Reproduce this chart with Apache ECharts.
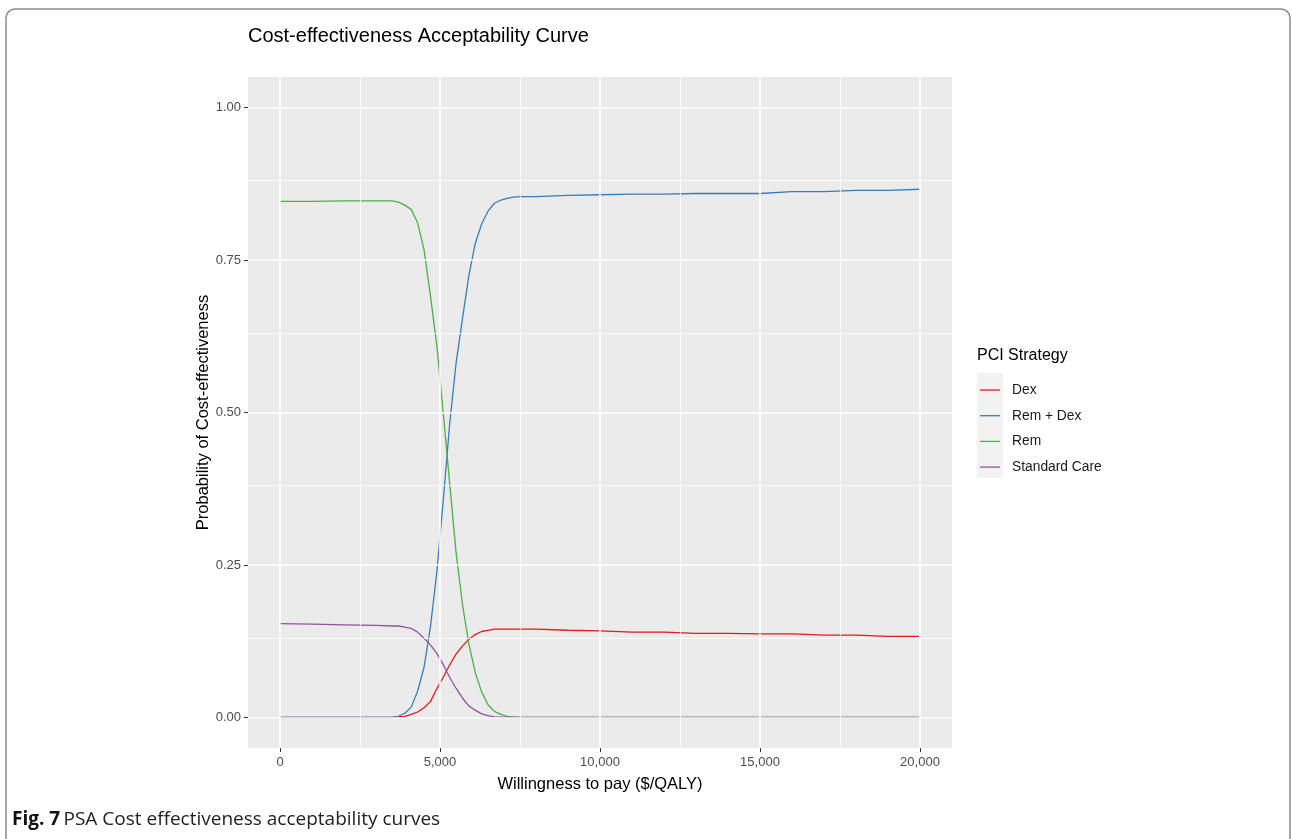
<!DOCTYPE html>
<html>
<head>
<meta charset="utf-8">
<script src="https://cdn.jsdelivr.net/npm/echarts@6/dist/echarts.min.js"></script>
<style>
  html, body { margin: 0; padding: 0; background: #fff; }
  #chart { width: 1292px; height: 839px; }
</style>
</head>
<body>
<div id="chart"></div>
<script>
// ---- data ----
const wtp = [0, 1000, 2000, 3000, 3500, 3700, 3900, 4100, 4300, 4500, 4700, 4900, 5100, 5300, 5500, 5700, 5900, 6100, 6300, 6500, 6700, 6900, 7100, 7300, 7500, 8000, 9000, 10000, 11000, 12000, 13000, 14000, 15000, 16000, 17000, 18000, 19000, 20000];
const dex = [0, 0, 0, 0, 0, 0.001, 0.002, 0.005, 0.009, 0.016, 0.026, 0.047, 0.066, 0.086, 0.104, 0.117, 0.128, 0.136, 0.141, 0.143, 0.145, 0.145, 0.145, 0.145, 0.145, 0.145, 0.143, 0.142, 0.140, 0.140, 0.138, 0.138, 0.137, 0.137, 0.135, 0.135, 0.133, 0.133];
const remDex = [0, 0, 0, 0, 0, 0.002, 0.007, 0.017, 0.043, 0.082, 0.148, 0.238, 0.355, 0.480, 0.580, 0.653, 0.724, 0.777, 0.809, 0.830, 0.843, 0.848, 0.851, 0.853, 0.854, 0.854, 0.856, 0.857, 0.858, 0.858, 0.859, 0.859, 0.859, 0.862, 0.862, 0.864, 0.864, 0.866];
const rem = [0.846, 0.846, 0.847, 0.847, 0.847, 0.845, 0.840, 0.833, 0.811, 0.767, 0.692, 0.610, 0.500, 0.385, 0.272, 0.186, 0.121, 0.074, 0.042, 0.021, 0.010, 0.005, 0.002, 0.001, 0, 0, 0, 0, 0, 0, 0, 0, 0, 0, 0, 0, 0, 0];
const stdCare = [0.154, 0.153, 0.152, 0.151, 0.150, 0.150, 0.148, 0.146, 0.140, 0.130, 0.119, 0.105, 0.087, 0.066, 0.048, 0.032, 0.019, 0.012, 0.006, 0.003, 0.001, 0.0005, 0, 0, 0, 0, 0, 0, 0, 0, 0, 0, 0, 0, 0, 0, 0, 0];
const seriesNames = ['Dex', 'Rem + Dex', 'Rem', 'Standard Care'];
const seriesColors = ['#E41A1C', '#377EB8', '#4DAF4A', '#984EA3'];
const xTicks = [0, 5000, 10000, 15000, 20000];
const xMinor = [2500, 7500, 12500, 17500];
const yTicks = [0, 0.25, 0.5, 0.75, 1];
const yMinor = [0.125, 0.375, 0.625, 0.875];

const values = [dex, remDex, rem, stdCare];
const chart = echarts.init(document.getElementById('chart'), null, { renderer: 'canvas' });

const gridLines = [];
xTicks.forEach(v => gridLines.push({ xAxis: v, lineStyle: { width: 1.6 } }));
xMinor.forEach(v => gridLines.push({ xAxis: v, lineStyle: { width: 0.8 } }));
yTicks.forEach(v => gridLines.push({ yAxis: v, lineStyle: { width: 1.6 } }));
yMinor.forEach(v => gridLines.push({ yAxis: v, lineStyle: { width: 0.8 } }));

const series = [{
  name: '__grid',
  type: 'line',
  data: [],
  z: 1,
  silent: true,
  markLine: {
    silent: true,
    symbol: 'none',
    label: { show: false },
    animation: false,
    lineStyle: { color: '#ffffff', type: 'solid' },
    data: gridLines
  }
}];
seriesNames.forEach((n, i) => {
  series.push({
    name: n,
    type: 'line',
    z: 3,
    symbol: 'none',
    showSymbol: false,
    animation: false,
    lineStyle: { color: seriesColors[i], width: 1.3 },
    itemStyle: { color: seriesColors[i] },
    data: wtp.map((w, k) => [w, values[i][k]])
  });
});

const font = 'Liberation Sans, Arial, sans-serif';
chart.setOption({
  animation: false,
  backgroundColor: '#ffffff',
  title: {
    text: 'Cost-effectiveness Acceptability Curve',
    left: 243, top: 21,
    textStyle: { fontFamily: font, fontSize: 20, fontWeight: 'normal', color: '#000' }
  },
  grid: {
    left: 248, top: 77, width: 704, height: 671,
    show: true, backgroundColor: '#EBEBEB', borderWidth: 0
  },
  legend: {
    data: seriesNames,
    orient: 'vertical',
    left: 975, top: 378,
    icon: 'rect',
    itemWidth: 20, itemHeight: 1.3, itemGap: 11.7,
    textStyle: { fontFamily: font, fontSize: 13.8, lineHeight: 14, color: '#1a1a1a', padding: [0, 0, 0, 7] },
    selectedMode: false
  },
  xAxis: {
    type: 'value',
    min: -1000, max: 21000,
    name: 'Willingness to pay ($/QALY)',
    nameLocation: 'middle', nameGap: 28,
    nameTextStyle: { fontFamily: font, fontSize: 16.5, color: '#000' },
    axisLine: { show: false, onZero: false },
    axisTick: { show: true, customValues: xTicks, length: 4, lineStyle: { color: '#333', width: 1 } },
    axisLabel: {
      customValues: xTicks, margin: 8,
      fontFamily: font, fontSize: 13, color: '#4D4D4D',
      formatter: v => v.toLocaleString('en-US')
    },
    splitLine: { show: false }
  },
  yAxis: {
    type: 'value',
    min: -0.05, max: 1.05,
    name: 'Probability of Cost-effectiveness',
    nameLocation: 'middle', nameGap: 36, nameRotate: 90,
    nameMoveOverlap: false,
    nameTextStyle: { fontFamily: font, fontSize: 16.5, color: '#000' },
    axisLine: { show: false, onZero: false },
    axisTick: { show: true, customValues: yTicks, length: 4, lineStyle: { color: '#333', width: 1 } },
    axisLabel: {
      customValues: yTicks, margin: 7,
      fontFamily: font, fontSize: 13, color: '#4D4D4D',
      formatter: v => v.toFixed(2)
    },
    splitLine: { show: false }
  },
  graphic: [
    {
      type: 'rect', z: -10,
      shape: { x: 6, y: 9, width: 1284, height: 860, r: 9 },
      style: { fill: '#fff', stroke: '#8a8a8a', lineWidth: 1.5 }
    },
    {
      type: 'rect', z: 0,
      shape: { x: 977, y: 373, width: 26, height: 105 },
      style: { fill: '#F2F2F2' }
    },
    {
      type: 'text', left: 977, top: 348,
      style: { text: 'PCI Strategy', font: '16px Liberation Sans, Arial, sans-serif', fill: '#000' }
    },
    {
      type: 'text', left: 12, top: 810,
      style: {
        rich: {
          b: { fontFamily: 'Open Sans, Noto Sans, sans-serif', fontSize: 19, fontWeight: 'bold', fill: '#111' },
          n: { fontFamily: 'Open Sans, Noto Sans, sans-serif', fontSize: 19, fill: '#222' }
        },
        text: '{b|Fig. 7} {n|PSA Cost effectiveness acceptability curves}'
      }
    }
  ],
  series: series
});
</script>
</body>
</html>
